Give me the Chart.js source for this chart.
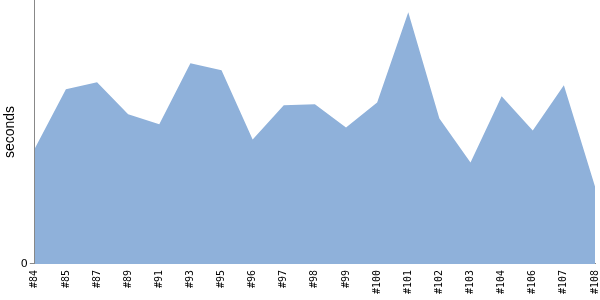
<!DOCTYPE html>
<html>
<head>
<meta charset="utf-8">
<script src="https://cdn.jsdelivr.net/npm/chart.js@4"></script>
<style>
  html, body { margin: 0; padding: 0; background: #fff; }
  #wrap { width: 600px; height: 300px; }
</style>
</head>
<body>
<div id="wrap"><canvas id="chart-build"></canvas></div>
<script>
// build numbers along the x axis
const BUILDS = ['#84','#85','#87','#89','#91','#93','#95','#96','#97','#98',
                '#99','#100','#101','#102','#103','#104','#106','#107','#108'];
// duration per build (seconds)
const DURATIONS = [43.7, 66.2, 68.8, 56.7, 52.9, 76.0, 73.4, 47.1, 60.1, 60.5,
                   51.7, 61.2, 95.4, 55.1, 38.4, 63.5, 50.6, 67.7, 29.3];
const Y_MAX = 100;

const AXIS_GREY = '#888888';

new Chart(document.getElementById('chart-build'), {
  type: 'line',
  data: {
    labels: BUILDS,
    datasets: [{
      label: 'seconds',
      data: DURATIONS,
      fill: 'origin',
      backgroundColor: 'rgb(143,177,218)',
      borderWidth: 0,
      pointRadius: 0,
      tension: 0,
    }],
  },
  options: {
    responsive: true,
    maintainAspectRatio: false,
    animation: false,
    layout: { padding: { top: 0, right: 5, bottom: 0, left: 0 } },
    plugins: { legend: { display: false }, tooltip: { enabled: false } },
    scales: {
      x: {
        offset: false,
        grid: { display: false, drawTicks: false },
        border: { display: true, color: AXIS_GREY },
        afterFit: s => { s.paddingLeft = 0; s.paddingRight = 0; },
        ticks: {
          autoSkip: false,
          minRotation: 90,
          maxRotation: 90,
          padding: 6,
          color: '#000',
          font: { family: 'DejaVu Sans Mono', size: 10 },
        },
      },
      y: {
        min: 0,
        max: Y_MAX,
        afterBuildTicks: s => { s.ticks = [{ value: 0 }]; },
        afterFit: s => { s.paddingTop = 0; s.paddingBottom = 0; },
        grid: { drawOnChartArea: false, tickLength: 5, color: AXIS_GREY },
        border: { display: true, color: AXIS_GREY },
        ticks: { padding: 2, color: '#000', font: { family: 'DejaVu Sans', size: 11 } },
        title: { display: true, text: 'seconds', color: '#000', padding: { top: 2, bottom: 0 },
                 font: { family: 'Liberation Sans', size: 14 } },
      },
    },
  },
});
</script>
</body>
</html>
